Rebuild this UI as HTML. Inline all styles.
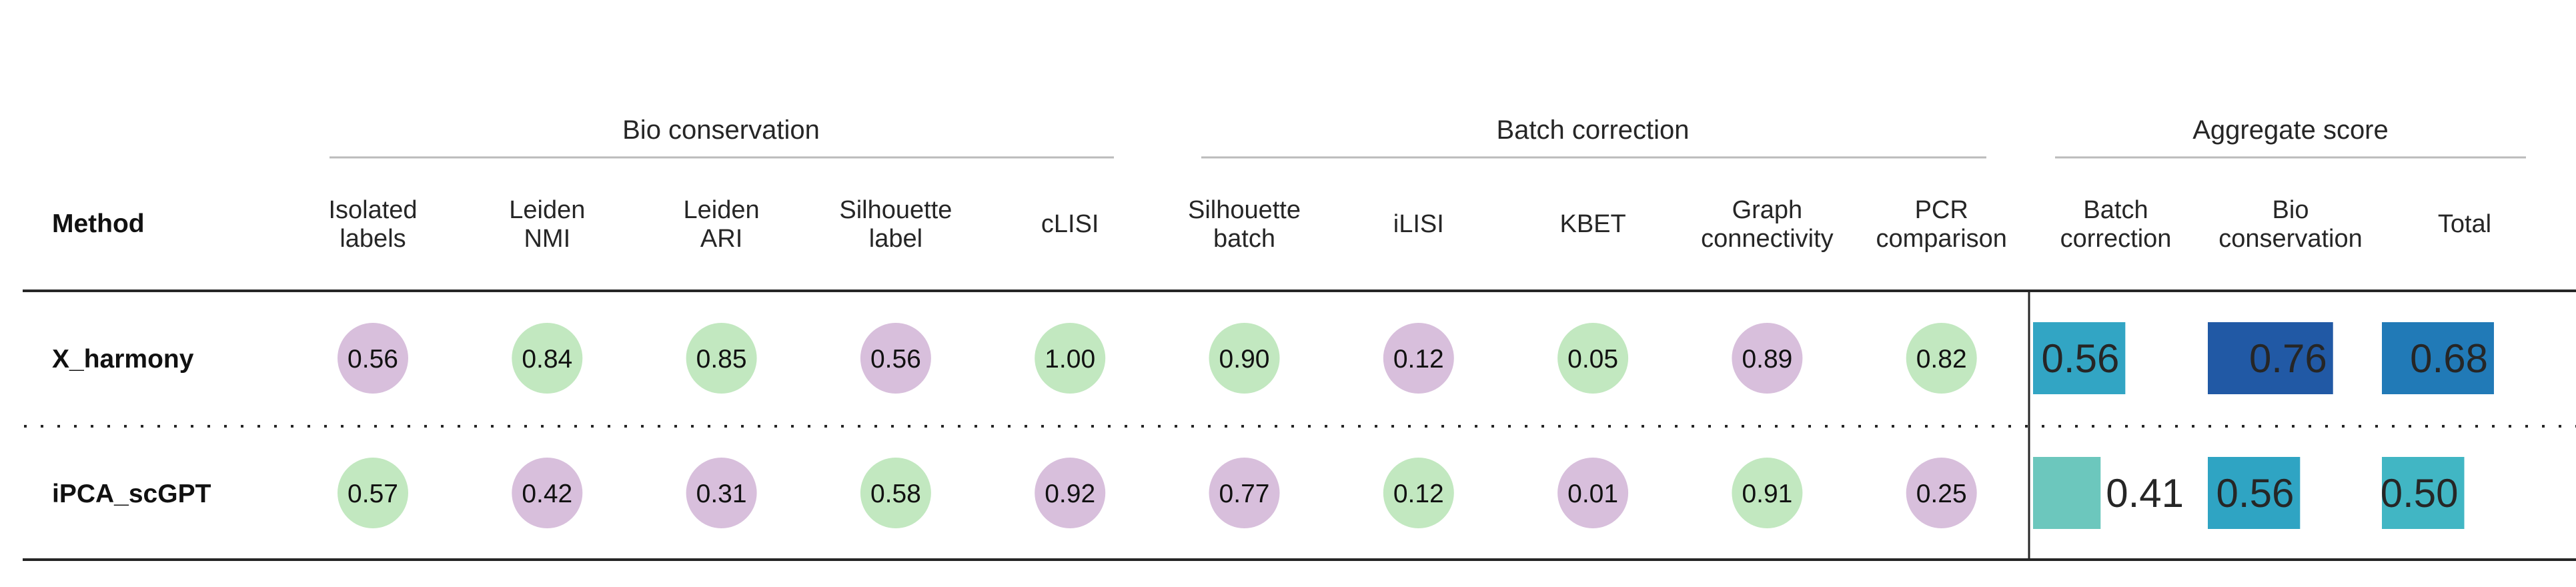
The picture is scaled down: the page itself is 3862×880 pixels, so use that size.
<!DOCTYPE html>
<html><head><meta charset="utf-8"><style>
html,body{margin:0;padding:0;background:#fff;}
svg{display:block;font-family:"Liberation Sans",Arial,sans-serif;}
</style></head><body>
<svg id="chart" width="3862" height="880" viewBox="0 0 3862 880" xmlns="http://www.w3.org/2000/svg">
<g id="static" fill="#262626">
  <text x="1081" y="208" font-size="40" text-anchor="middle">Bio conservation</text>
  <text x="2388" y="208" font-size="40" text-anchor="middle">Batch correction</text>
  <text x="3434" y="208" font-size="40" text-anchor="middle">Aggregate score</text>
  <line x1="494" y1="236" x2="1670" y2="236" stroke="#bbb" stroke-width="3"/>
  <line x1="1801" y1="236" x2="2978" y2="236" stroke="#bbb" stroke-width="3"/>
  <line x1="3081" y1="236" x2="3787" y2="236" stroke="#bbb" stroke-width="3"/>
  <text x="78" y="348" font-size="39" font-weight="bold" fill="#111">Method</text>
  <line x1="34" y1="436" x2="3862" y2="436" stroke="#262626" stroke-width="4"/>
  <line x1="34" y1="839" x2="3862" y2="839" stroke="#262626" stroke-width="4"/>
  <line x1="36" y1="639" x2="3862" y2="639" stroke="#262626" stroke-width="4" stroke-dasharray="4 21"/>
  <line x1="3042" y1="436" x2="3042" y2="839" stroke="#262626" stroke-width="3"/>
</g>
<g id="marks"></g>
</svg>
<script>
const methods = ["X_harmony", "iPCA_scGPT"];
const metricHeaders = [["Isolated","labels"],["Leiden","NMI"],["Leiden","ARI"],["Silhouette","label"],["cLISI"],["Silhouette","batch"],["iLISI"],["KBET"],["Graph","connectivity"],["PCR","comparison"]];
const aggHeaders = [["Batch","correction"],["Bio","conservation"],["Total"]];
const metricsRow1 = [0.56,0.84,0.85,0.56,1.00,0.90,0.12,0.05,0.89,0.82];
const metricsRow2 = [0.57,0.42,0.31,0.58,0.92,0.77,0.12,0.01,0.91,0.25];
const aggRow1 = [0.56,0.76,0.68];
const aggRow2 = [0.41,0.56,0.50];
const barColorsRow1 = ["#32a5c4","#2159a5","#217ab7"];
const barColorsRow2 = ["#6cc7bd","#2fa4c3","#41b6c4"];

const NS = "http://www.w3.org/2000/svg";
const g = document.getElementById('marks');
const colX = i => 559 + i * 261.3;
const aggX = i => [3048, 3310, 3571][i];
const rowY = r => 537 + r * 202;
const barW = v => v * 247;
function mk(tag, attrs, parent) {
  const e = document.createElementNS(NS, tag);
  for (const k in attrs) e.setAttribute(k, attrs[k]);
  (parent || g).appendChild(e);
  return e;
}
function headerText(lines, cx, name) {
  const t = mk('text', {x: cx, 'font-size': 38, 'text-anchor': 'middle', fill: '#262626'});
  
  
  const y0 = lines.length === 1 ? 348 : 327;
  lines.forEach((l, i) => {
    const s = mk('tspan', {x: cx, y: y0 + i * 43}, t);
    s.textContent = l;
  });
}
metricHeaders.forEach((h, i) => headerText(h, colX(i), 'column-header-' + h.join('-').toLowerCase()));
aggHeaders.forEach((h, i) => headerText(h, aggX(i) + 124, 'aggregate-header-' + h.join('-').toLowerCase()));

const rows = [metricsRow1, metricsRow2];
const aggs = [aggRow1, aggRow2];
const barColors = [barColorsRow1, barColorsRow2];
methods.forEach((m, r) => {
  const t = mk('text', {x: 78, y: rowY(r) + 14, 'font-size': 39, 'font-weight': 'bold', fill: '#111'});
  
  
  t.textContent = m;
  rows[r].forEach((v, i) => {
    const other = rows[1 - r][i];
    const best = v > other || (v === other && r === 1);
    const c = mk('circle', {cx: colX(i), cy: rowY(r), r: 53, fill: best ? '#c2e8c0' : '#d8bfdc'});
    
    
    const tx = mk('text', {x: colX(i), y: rowY(r) + 14, 'font-size': 39, 'text-anchor': 'middle', fill: '#111'});
    
    
    tx.textContent = v.toFixed(2);
  });
  aggs[r].forEach((v, i) => {
    const w = barW(v);
    const b = mk('rect', {x: aggX(i), y: rowY(r) - 54, width: w, height: 108, fill: barColors[r][i]});
    
    
    const inside = v >= 0.45;
    const tx = mk('text', {x: inside ? aggX(i) + w - 9 : aggX(i) + w + 8, y: rowY(r) + 21, 'font-size': 60, 'text-anchor': inside ? 'end' : 'start', fill: '#262626'});
    
    
    tx.textContent = v.toFixed(2);
  });
});
</script>
</body></html>
